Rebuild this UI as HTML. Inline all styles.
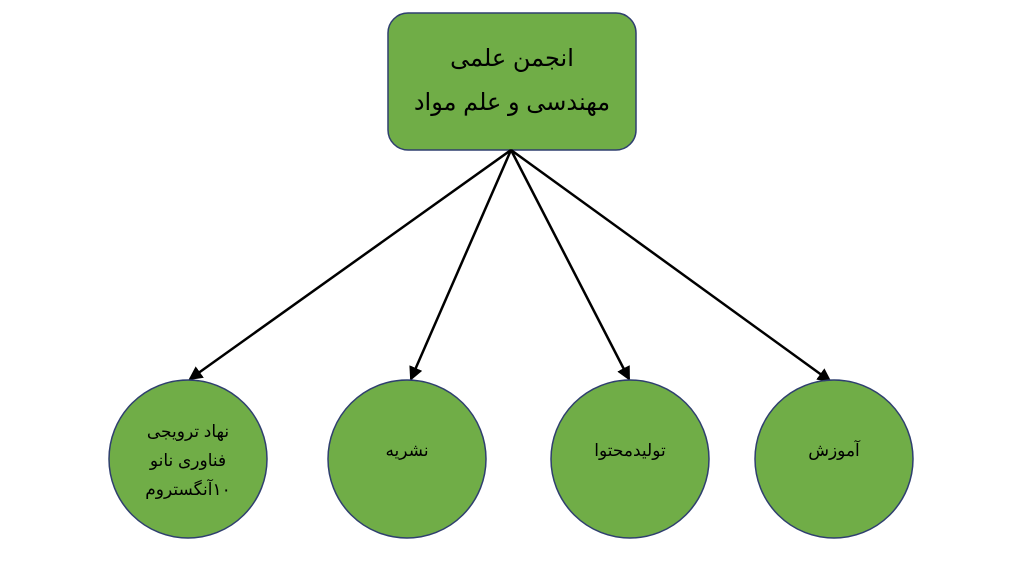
<!DOCTYPE html>
<html><head><meta charset="utf-8"><style>
body{margin:0;background:#fff;width:1023px;height:557px;overflow:hidden}
text{font-family:"Liberation Sans","DejaVu Sans","Noto Sans CJK SC",sans-serif;fill:#000}
</style></head><body>
<svg width="1023" height="557" viewBox="0 0 1023 557" xmlns="http://www.w3.org/2000/svg">
<defs><marker id="a" markerWidth="14" markerHeight="14" refX="12" refY="7" orient="auto" markerUnits="userSpaceOnUse"><path d="M0,0 L14,7 L0,14 z" fill="#000"/></marker></defs>
<rect x="388" y="13" width="248" height="137" rx="20" fill="#70ad47" stroke="#2f3f6f" stroke-width="1.5"/>
<g stroke="#000" stroke-width="2.5" marker-end="url(#a)">
<line x1="511" y1="150" x2="190" y2="379"/>
<line x1="511" y1="150" x2="411" y2="379"/>
<line x1="511" y1="150" x2="629" y2="379"/>
<line x1="511" y1="150" x2="830" y2="381"/>
</g>
<g fill="#70ad47" stroke="#2f3f6f" stroke-width="1.5">
<circle cx="188" cy="459" r="79"/>
<circle cx="407" cy="459" r="79"/>
<circle cx="630" cy="459" r="79"/>
<circle cx="834" cy="459" r="79"/>
</g>
<g text-anchor="middle" direction="rtl">
<text x="512" y="66" font-size="24">انجمن علمی</text>
<text x="512" y="110" font-size="24">مهندسی و علم مواد</text>
<text x="188" y="437" font-size="17">نهاد ترویجی</text>
<text x="188" y="466" font-size="17">فناوری نانو</text>
<text x="188" y="495" font-size="17">۱۰آنگستروم</text>
<text x="407" y="456" font-size="17">نشریه</text>
<text x="630" y="456" font-size="17">تولیدمحتوا</text>
<text x="834" y="456" font-size="17">آموزش</text>
</g>
</svg>
</body></html>
